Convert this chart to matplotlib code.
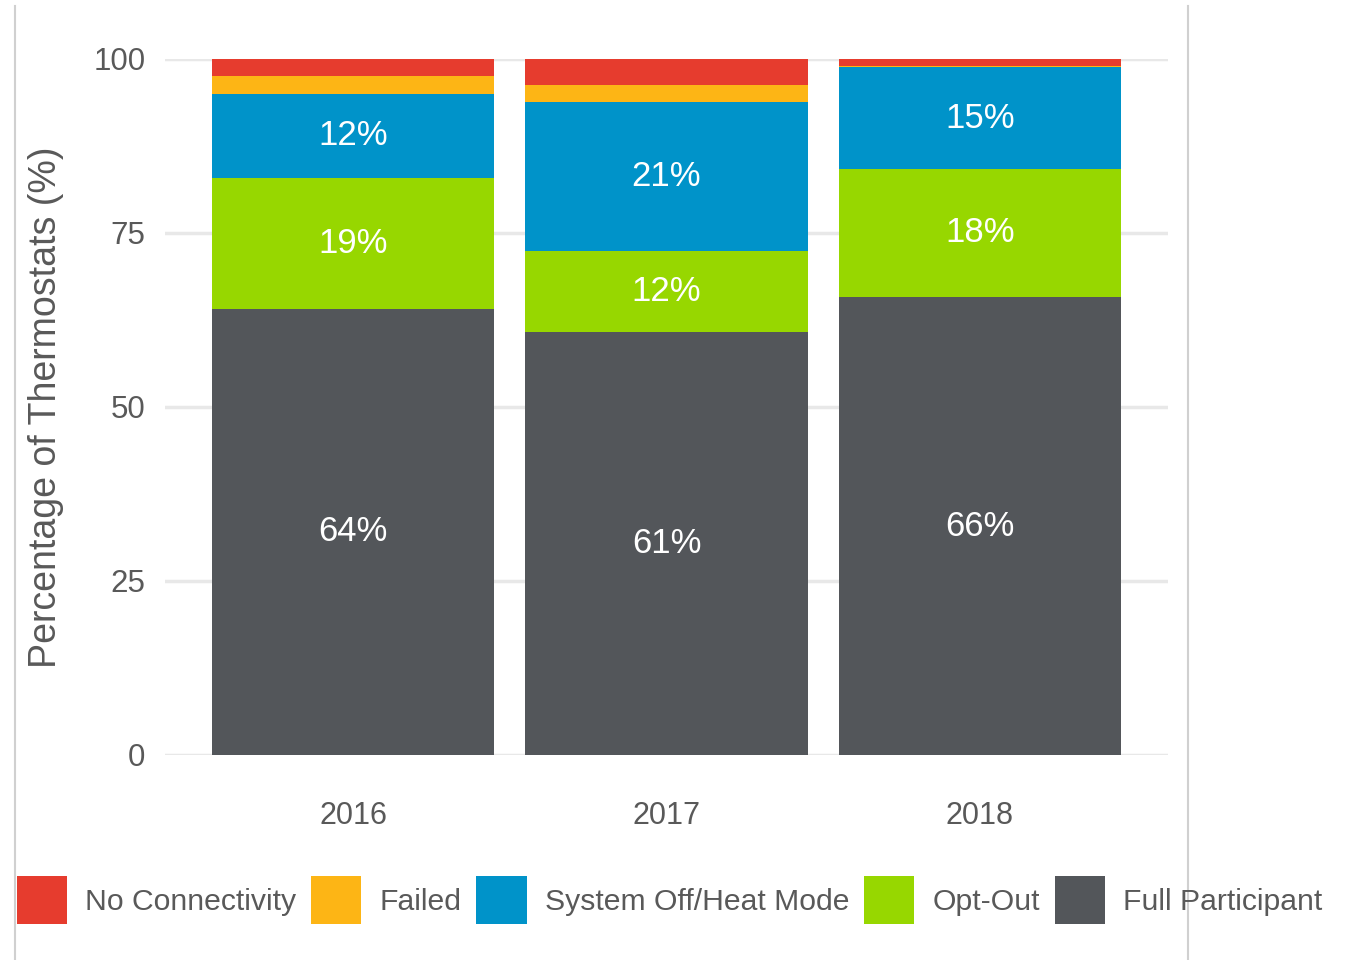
import matplotlib.pyplot as plt
from matplotlib.lines import Line2D
import numpy as np

plt.rcParams['font.family'] = ['Liberation Sans', 'DejaVu Sans']

# Data (percent of thermostats)
years = ["2016", "2017", "2018"]
full_participant = [64.1, 60.8, 65.8]
opt_out = [18.8, 11.6, 18.4]
system_off = [12.1, 21.4, 14.6]
failed = [2.6, 2.4, 0.2]
no_connectivity = [2.4, 3.8, 1.0]

series = [
    ("Full Participant", full_participant, '#53565A'),
    ("Opt-Out", opt_out, '#97D700'),
    ("System Off/Heat Mode", system_off, '#0093C9'),
    ("Failed", failed, '#FDB515'),
    ("No Connectivity", no_connectivity, '#E63C2E'),
]
labelled = ["Full Participant", "Opt-Out", "System Off/Heat Mode"]
text_gray = '#595959'

fig = plt.figure(figsize=(13.51, 9.6), dpi=100)
ax = fig.add_axes([165/1351, 205/960, 1003/1351, 696/960])

x = np.arange(len(years))
bottom = np.zeros(len(years))
handles = {}
for name, vals, col in series:
    vals = np.array(vals)
    bars = ax.bar(x, vals, bottom=bottom, width=0.9, color=col, zorder=3)
    handles[name] = bars
    if name in labelled:
        ax.bar_label(bars, labels=[f'{v:.0f}%' for v in vals], label_type='center',
                     color='white', fontsize=25)
    bottom += vals

ax.set_xlim(-0.6, 2.6)
ax.set_ylim(0, 100)
ax.set_yticks([0, 25, 50, 75, 100])
ax.set_xticks(x)
ax.set_xticklabels(years)
ax.grid(axis='y', color='#e8e8e8', linewidth=2.5, zorder=0)
for s in ax.spines.values():
    s.set_visible(False)
ax.tick_params(axis='both', length=0, colors=text_gray)
ax.tick_params(axis='x', pad=33, labelsize=22)
ax.tick_params(axis='y', pad=14, labelsize=22.5)
ax.set_ylabel("Percentage of Thermostats (%)", fontsize=27, color=text_gray, labelpad=21)

# light border lines left and right
fig.add_artist(Line2D([15/1351, 15/1351], [0, 954/960], color='#d0d0d0', linewidth=1.5))
fig.add_artist(Line2D([1188/1351, 1188/1351], [0, 954/960], color='#d0d0d0', linewidth=1.5))

order = ["No Connectivity", "Failed", "System Off/Heat Mode", "Opt-Out", "Full Participant"]
leg = fig.legend([handles[n] for n in order], order, loc='center left',
                 bbox_to_anchor=(17/1351, 60/960), ncol=5, frameon=False,
                 fontsize=21.7, handlelength=1.66, handleheight=2.03,
                 handletextpad=0.6, columnspacing=0.5, borderpad=0, borderaxespad=0)
for t in leg.get_texts():
    t.set_color(text_gray)

fig.savefig("out.png", dpi=100)
